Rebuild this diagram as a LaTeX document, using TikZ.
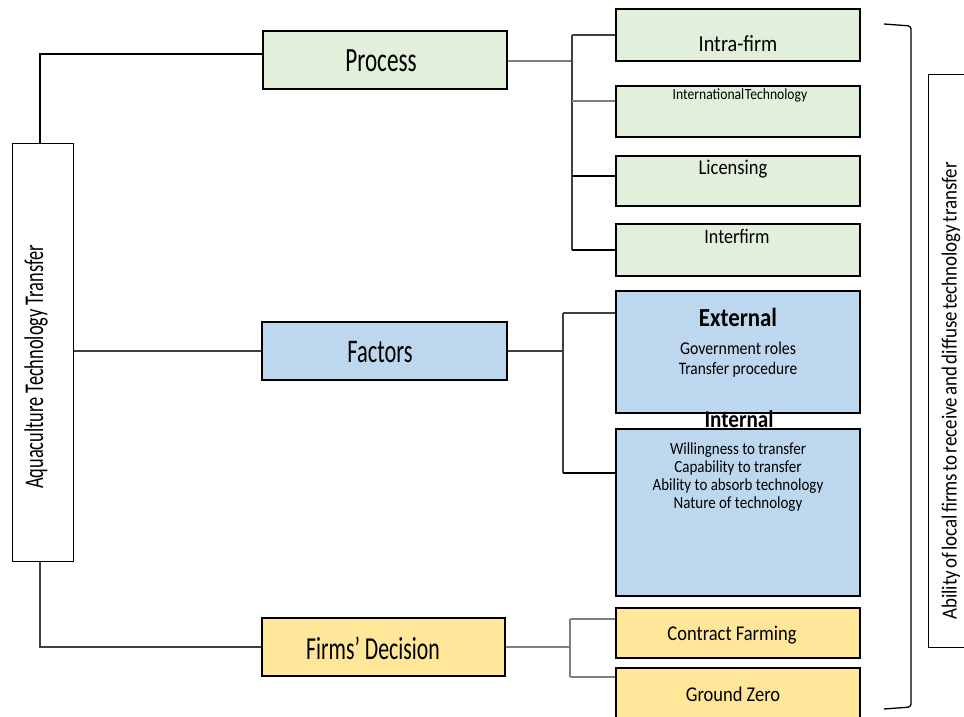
\documentclass[tikz,border=0pt]{standalone}
\usepackage{fontspec}
\setmainfont{Carlito}
\newfontfamily\narrowfont[FakeStretch=0.68]{Carlito}
\newfontfamily\midfont[FakeStretch=0.88]{Carlito}
\usetikzlibrary{calc}
\definecolor{procfill}{HTML}{E2EFDA}
\definecolor{factfill}{HTML}{BDD7EE}
\definecolor{decfill}{HTML}{FFE699}
\definecolor{linkgray}{HTML}{404040}
\definecolor{lightlink}{HTML}{7F7F7F}

\begin{document}
\begin{tikzpicture}[x=1pt,y=-1pt,
  box/.style={draw=black, line width=1.3pt, rectangle, inner sep=0pt},
  procbox/.style={box, fill=procfill},
  factbox/.style={box, fill=factfill},
  decbox/.style={box, fill=decfill},
  plainbox/.style={draw=black, line width=1pt, rectangle, inner sep=0pt, fill=white},
  lbl/.style={inner sep=0pt, text=black},
  conn/.style={draw=linkgray, line width=1.3pt},
  thinconn/.style={draw=lightlink, line width=1.1pt},
  strongconn/.style={draw=black, line width=1.6pt}]

\clip (0,0) rectangle (964,717);
\useasboundingbox (0,0) rectangle (964,717);
\fill[white] (0,0) rectangle (964,717);

% ---- root ----
\node[plainbox, minimum width=61pt, minimum height=418pt] (root) at (42.5,352) {};
\node[lbl, rotate=90, font=\narrowfont\fontsize{27}{27}\selectfont] (rootlbl) at (36,367) {Aquaculture Technology Transfer};

% ---- second level ----
\node[procbox, minimum width=244pt, minimum height=58pt] (process) at (385,60) {};
\node[lbl, font=\narrowfont\fontsize{34}{34}\selectfont] (processlbl) at (381,61) {Process};
\node[factbox, minimum width=245pt, minimum height=58pt] (factors) at (384.5,351) {};
\node[lbl, font=\narrowfont\fontsize{33}{33}\selectfont] (factorslbl) at (380,352) {Factors};
\node[decbox, minimum width=243pt, minimum height=58pt] (firms) at (383.5,647) {};
\node[lbl, font=\narrowfont\fontsize{32}{32}\selectfont] (firmslbl) at (373,648) {Firms’ Decision};

% ---- process branch ----
\node[procbox, minimum width=244pt, minimum height=52pt] (intra) at (738,35) {};
\node[lbl, font=\midfont\fontsize{23}{23}\selectfont] (intralbl) at (738,44) {Intra-firm};
\node[procbox, minimum width=244pt, minimum height=51pt] (intl) at (738,111.5) {};
\node[lbl, font=\midfont\fontsize{15.5}{15.5}\selectfont] (intllbl) at (740,95) {International\hspace{0.5pt}Technology};
\node[procbox, minimum width=244pt, minimum height=50pt] (licensing) at (738,181) {};
\node[lbl, font=\midfont\fontsize{21}{21}\selectfont] (licensinglbl) at (733,169) {Licensing};
\node[procbox, minimum width=244pt, minimum height=52pt] (interfirm) at (738,250) {};
\node[lbl, font=\midfont\fontsize{20.5}{20.5}\selectfont] (interfirmlbl) at (737,236) {Interfirm};

% ---- factors branch ----
\node[factbox, minimum width=244pt, minimum height=122pt] (external) at (738,352) {};
\node[lbl, font=\midfont\fontsize{26}{26}\selectfont\bfseries] (externallbl) at (738,317) {External};
\node[lbl, font=\midfont\fontsize{18}{18}\selectfont] (govlbl) at (738,348) {Government roles};
\node[lbl, font=\midfont\fontsize{17.5}{17.5}\selectfont] (proclbl) at (738,370) {Transfer procedure};
\node[factbox, minimum width=244pt, minimum height=167pt] (internal) at (738,512.5) {};
\node[lbl, font=\midfont\fontsize{24}{24}\selectfont\bfseries] (internallbl) at (739,419) {Internal};
\node[lbl, align=center, font=\midfont\fontsize{17}{18}\selectfont] (internallist) at (738,477)
  {Willingness to transfer\\ Capability to transfer\\ Ability to absorb technology\\ Nature of technology};

% ---- decision branch ----
\node[decbox, minimum width=244pt, minimum height=50pt] (contract) at (738,633) {};
\node[lbl, font=\midfont\fontsize{21}{21}\selectfont] (contractlbl) at (732,635) {Contract Farming};
\node[decbox, minimum width=244pt, minimum height=58pt] (ground) at (738,697) {};
\node[lbl, font=\midfont\fontsize{21}{21}\selectfont] (groundlbl) at (733,694) {Ground Zero};

% ---- outcome ----
\node[plainbox, minimum width=72pt, minimum height=572pt] (ability) at (964,361) {};
\node[lbl, rotate=90, font=\midfont\fontsize{21.5}{21.5}\selectfont] (abilitylbl) at (951,391)
  {\spaceskip=2.3pt Ability of local firms to receive and diffuse technology transfer};

% bracket spanning the right-hand column
\coordinate (bracktop) at (884,24);
\coordinate (brackbot) at (884,709);
\draw[black, line width=1.3pt, rounded corners=3pt]
  (bracktop) -- (911,26) -- (911,707) -- (brackbot);

% ---- connectors from the root ----
\draw[strongconn] (root.north -| 40,0) |- ([yshift=6pt]process.west);
\draw[conn] (root.east |- factors.west) -- (factors.west);
\draw[conn] (root.south -| 40,0) |- (firms.west);

% ---- process trunk ----
\coordinate (ptrunk) at (572,0);
\draw[thinconn] ([yshift=-1pt]process.east) -- ([yshift=-1pt]process.east -| ptrunk);
\draw[conn] (intra.west -| ptrunk) -- (interfirm.west -| ptrunk);
\draw[conn] (intra.west) -- (intra.west -| ptrunk);
\draw[thinconn] ([yshift=10.5pt]intl.west) -- ([yshift=10.5pt]intl.west -| ptrunk);
\draw[strongconn] ([yshift=5pt]licensing.west) -- ([yshift=5pt]licensing.west -| ptrunk);
\draw[strongconn] (interfirm.west) -- (interfirm.west -| ptrunk);

% ---- factors trunk ----
\coordinate (ftrunk) at (563,0);
\draw[conn] (factors.east) -- (factors.east -| ftrunk);
\draw[conn] ([yshift=39pt]external.west -| ftrunk) -- ([yshift=39.5pt]internal.west -| ftrunk);
\draw[conn] ([yshift=39pt]external.west) -- ([yshift=39pt]external.west -| ftrunk);
\draw[strongconn] ([yshift=39.5pt]internal.west) -- ([yshift=39.5pt]internal.west -| ftrunk);

% ---- decision trunk ----
\coordinate (dtrunk) at (570,0);
\draw[thinconn] (firms.east) -- (firms.east -| dtrunk);
\draw[thinconn] ([yshift=14pt]contract.west -| dtrunk) -- ([yshift=20pt]ground.west -| dtrunk);
\draw[thinconn] ([yshift=14pt]contract.west) -- ([yshift=14pt]contract.west -| dtrunk);
\draw[thinconn] ([yshift=20pt]ground.west) -- ([yshift=20pt]ground.west -| dtrunk);

\end{tikzpicture}
\end{document}
